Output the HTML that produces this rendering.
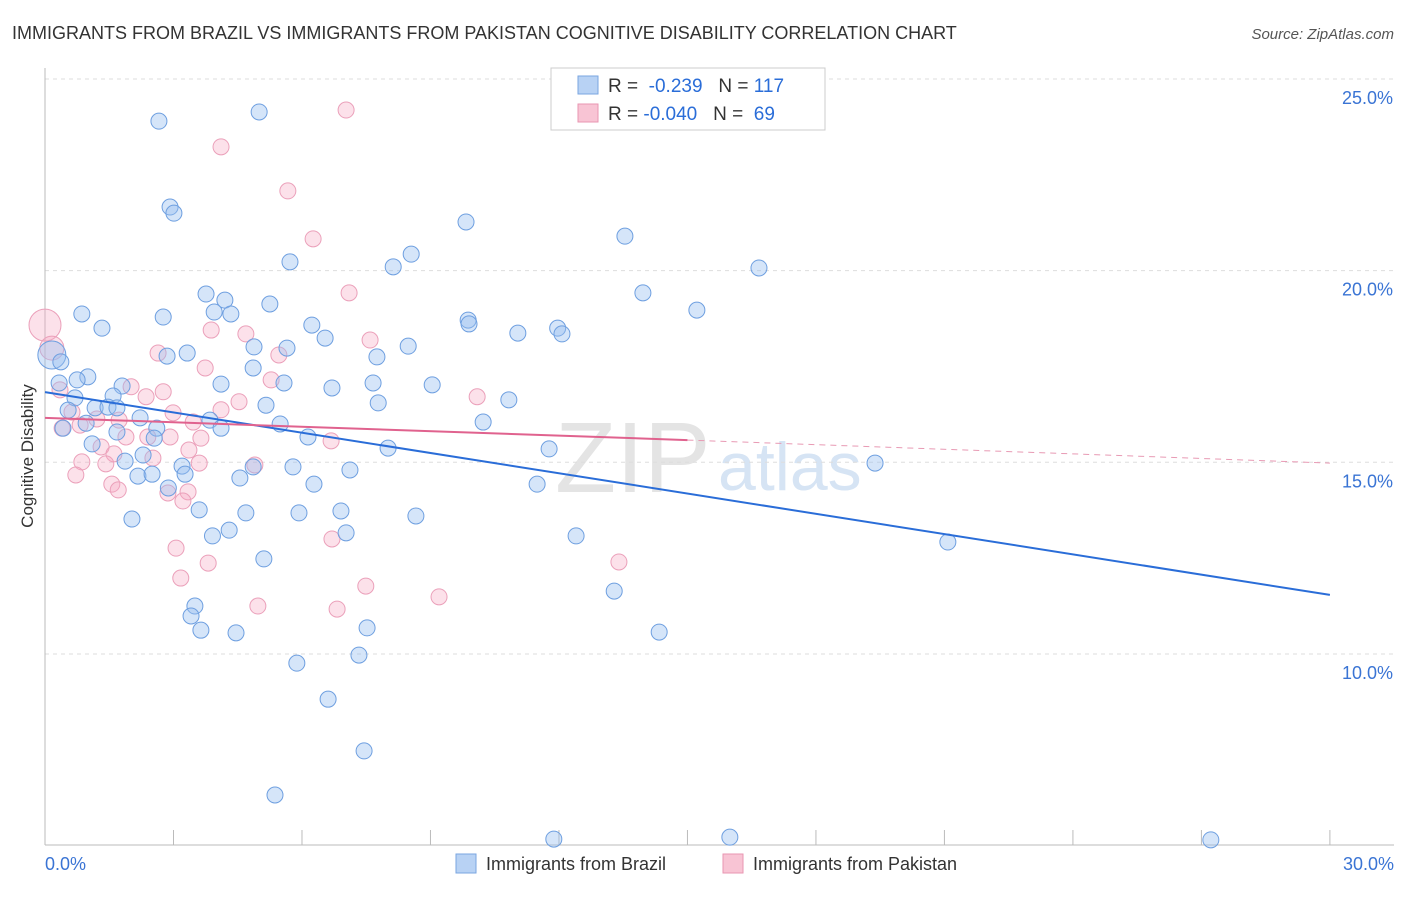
<!DOCTYPE html>
<html><head><meta charset="utf-8"><style>
body{margin:0;background:#fff;font-family:"Liberation Sans",sans-serif;}
svg text{font-family:"Liberation Sans",sans-serif;}
</style></head><body>
<svg id="c" width="1406" height="892">
<text x="12" y="39" font-size="18" fill="#333">IMMIGRANTS FROM BRAZIL VS IMMIGRANTS FROM PAKISTAN COGNITIVE DISABILITY CORRELATION CHART</text>
<text x="1394" y="39" font-size="15" fill="#555" font-style="italic" text-anchor="end">Source: ZipAtlas.com</text>
<text x="33" y="456" font-size="17" fill="#333" text-anchor="middle" transform="rotate(-90 33 456)">Cognitive Disability</text>
<text x="555" y="492" font-size="100" fill="#e4e4e4" font-family="Liberation Serif">ZIP</text>
<text x="718" y="490" font-size="68" fill="#d6e4f4">atlas</text>
<g id="grid"></g><g id="pts"></g><g id="lines"></g>
<g>
<rect x="551" y="68" width="274" height="62" fill="#fff" stroke="#ccc"/>
<rect x="578" y="76" width="20" height="18" fill="#b8d2f4" stroke="#7aa6e0"/>
<text x="608" y="92" font-size="19" fill="#333">R = <tspan fill="#2a6dd8">&#160;-0.239</tspan>&#160;&#160;&#160;N = <tspan fill="#2a6dd8">117</tspan></text>
<rect x="578" y="104" width="20" height="18" fill="#f8c4d4" stroke="#e896b2"/>
<text x="608" y="120" font-size="19" fill="#333">R = <tspan fill="#2a6dd8">-0.040</tspan>&#160;&#160;&#160;N = <tspan fill="#2a6dd8">&#160;69</tspan></text>
</g>
<g>
<rect x="456" y="854" width="20" height="19" fill="#b8d2f4" stroke="#7aa6e0"/>
<text x="486" y="870" font-size="18" fill="#333">Immigrants from Brazil</text>
<rect x="723" y="854" width="20" height="19" fill="#f8c4d4" stroke="#e896b2"/>
<text x="753" y="870" font-size="18" fill="#333">Immigrants from Pakistan</text>
</g>
</svg>
<script>
const yTicks=[25,20,15,10];
const xTickVals=[0,3,6,9,12,15,18,21,24,27,30];
const bx=[2.66,5.00,2.92,3.01,9.83,13.54,5.72,8.55,8.13,16.67,13.96,3.76,4.20,5.25,3.95,0.86,2.76,4.34,15.22,9.88,9.90,1.33,6.23,11.04,11.97,12.07,6.54,8.48,4.88,5.65,2.85,3.32,7.75,0.16,0.37,4.86,1.00,0.75,1.80,0.33,4.11,5.58,6.70,7.66,9.04,0.70,1.59,0.54,1.17,1.47,1.68,5.16,7.78,10.83,2.22,3.85,5.49,10.23,0.42,0.96,1.68,2.61,4.11,2.55,6.14,1.10,8.01,11.77,2.29,1.87,3.20,5.79,7.12,4.86,19.38,2.17,2.50,3.27,4.55,6.28,2.88,11.49,3.60,2.03,4.69,5.93,6.91,8.66,4.30,3.91,7.03,12.40,21.08,5.11,3.50,3.41,3.64,4.46,7.52,13.29,14.34,5.88,7.33,6.61,7.45,5.37,11.88,15.99,27.22];
const by=[23.90,24.14,21.66,21.50,21.27,20.90,20.23,20.43,20.10,20.07,19.42,19.39,19.23,19.13,18.92,18.87,18.79,18.87,18.97,18.71,18.61,18.50,18.58,18.37,18.50,18.35,18.24,18.03,18.01,17.98,17.77,17.85,17.75,17.80,17.62,17.46,17.23,17.15,16.99,17.07,17.04,17.07,16.94,17.07,17.02,16.68,16.73,16.36,16.42,16.44,16.42,16.49,16.55,16.63,16.16,16.10,16.00,16.05,15.89,16.02,15.79,15.89,15.89,15.63,15.66,15.48,15.37,15.35,15.19,15.03,14.90,14.88,14.80,14.88,14.98,14.64,14.69,14.69,14.59,14.43,14.33,14.43,13.76,13.52,13.68,13.68,13.73,13.60,13.23,13.08,13.16,13.08,12.92,12.48,11.25,10.99,10.62,10.55,10.68,11.64,10.57,9.76,9.97,8.82,7.47,6.32,5.17,5.22,5.15];
const px=[7.03,4.11,5.67,6.26,7.10,0,3.88,4.69,7.59,0.16,2.64,5.46,3.74,5.28,0.35,2.01,2.76,2.36,4.53,10.09,0.63,2.99,4.11,1.21,1.73,0.40,0.82,3.46,1.89,2.40,2.92,3.64,6.68,1.31,3.36,1.61,2.52,0.86,1.42,3.60,4.90,0.72,1.56,1.71,2.87,3.34,3.22,6.70,3.06,3.81,13.40,3.17,7.49,4.97,6.82,9.20];
const py=[24.19,23.23,22.08,20.83,19.42,18.58,18.45,18.35,18.19,17.98,17.85,17.80,17.46,17.15,16.89,16.97,16.84,16.71,16.58,16.71,16.31,16.29,16.37,16.13,16.10,15.89,15.97,16.05,15.66,15.66,15.66,15.63,15.56,15.40,15.32,15.22,15.11,15.01,14.96,14.98,14.93,14.67,14.43,14.28,14.20,14.23,13.99,13.00,12.76,12.37,12.40,11.98,11.77,11.25,11.17,11.49];
const blueTrend=[16.83,11.54];
const pinkTrend=[16.16,15.58,14.98];
const X=v=>45+v*42.83, Y=v=>79+(25-v)*38.33;
const NS='http://www.w3.org/2000/svg';
function mk(t,p,a){const e=document.createElementNS(NS,t);for(const k in a)e.setAttribute(k,a[k]);p.appendChild(e);return e;}
const g=document.getElementById('grid');
yTicks.forEach(v=>{
 const l=mk('line',g,{x1:45,x2:1394,y1:Y(v),y2:Y(v),stroke:'#ddd','stroke-dasharray':'4,4'});
 
 
 const t=mk('text',g,{x:1393,y:Y(v)+25,'font-size':18,fill:'#3a74d4','text-anchor':'end'});t.textContent=v.toFixed(1)+'%';
 
 
});
mk('line',g,{x1:45,x2:45,y1:68,y2:845,stroke:'#bbb'});
mk('line',g,{x1:45,x2:1394,y1:845,y2:845,stroke:'#bbb'});
xTickVals.forEach(v=>{
 const l=mk('line',g,{x1:X(v),x2:X(v),y1:830,y2:845,stroke:'#bbb'});
 
 
});
[[0,'0.0%','start',45],[30,'30.0%','end',1394]].forEach(a=>{
 const t=mk('text',g,{x:a[3],y:870,'font-size':18,fill:'#3a74d4','text-anchor':a[2]});t.textContent=a[1];
 
 
});
const pg=document.getElementById('pts');
px.forEach((v,i)=>{
 const r=(v<0.2)?(v===0?16:12):8;
 const c=mk('circle',pg,{cx:X(v),cy:Y(py[i]),r:r,fill:'rgba(245,170,195,0.35)',stroke:'#eba0ba','stroke-width':1});
 
 
});
bx.forEach((v,i)=>{
 const r=(v<0.2)?14:8;
 const c=mk('circle',pg,{cx:X(v),cy:Y(by[i]),r:r,fill:'rgba(150,190,240,0.4)',stroke:'#6e9fe0','stroke-width':1});
 
 
});
const lg=document.getElementById('lines');
let l=mk('line',lg,{x1:X(0),y1:Y(blueTrend[0]),x2:X(30),y2:Y(blueTrend[1]),stroke:'#2a6dd8','stroke-width':2});


l=mk('line',lg,{x1:X(0),y1:Y(pinkTrend[0]),x2:X(15),y2:Y(pinkTrend[1]),stroke:'#e0628e','stroke-width':2});


l=mk('line',lg,{x1:X(15),y1:Y(pinkTrend[1]),x2:X(30),y2:Y(pinkTrend[2]),stroke:'#e89ab4','stroke-width':1,'stroke-dasharray':'6,5'});


</script>
</body></html>
